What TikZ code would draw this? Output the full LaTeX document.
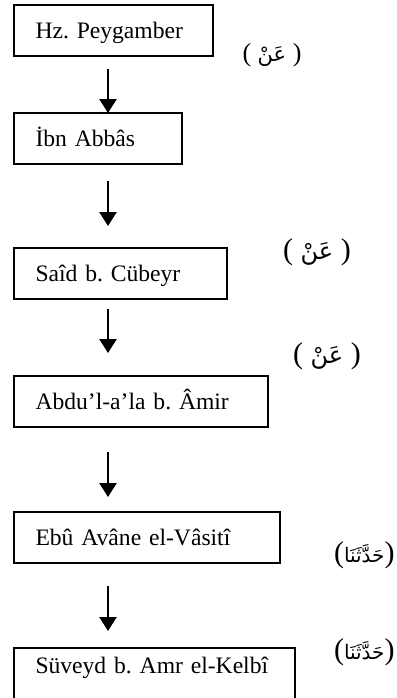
\documentclass[tikz,border=0pt]{standalone}
\usepackage{fontspec}
\setmainfont{Liberation Serif}
\newfontfamily\arabicfont[Script=Arabic]{DejaVu Sans}
\TeXXeTstate=1
\frenchspacing
\usetikzlibrary{arrows.meta}
\begin{document}
\begin{tikzpicture}[x=0.5pt,y=-0.5pt,
  box/.style={draw, line width=1pt, rectangle, anchor=north west, outer sep=0pt,
    inner ysep=0pt, inner xsep=10.75pt, align=left,
    text height=16.5pt, text depth=9pt,
    font=\fontsize{11.8}{14}\selectfont},
  arr/.style={line width=1.2pt, -{Triangle[width=8.5pt,length=7pt]}},
  labsmall/.style={inner sep=0pt, font=\fontsize{13}{14}\selectfont},
  lab/.style={inner sep=0pt, font=\fontsize{15}{18}\selectfont},
  labh/.style={inner sep=0pt, anchor=east, font=\fontsize{15}{18}\selectfont}]
\useasboundingbox (0,0) rectangle (397,698);
\begin{scope}
\clip (0,0) rectangle (397,698);
\node[box, text width=78pt] (b1) at (14,5) {Hz. Peygamber};
\node[box, text width=62.5pt] (b2) at (14,113) {İbn Abbâs};
\node[box, text width=85pt] (b3) at (14,248) {Saîd b. Cübeyr};
\node[box, text width=105.5pt] (b4) at (14,376) {Abdu’l-a’la b. Âmir};
\node[box, text width=111.5pt] (b5) at (14,512) {Ebû Avâne el-Vâsitî};
\node[box, text width=119pt, text height=12.5pt, text depth=14pt] (b6) at (14,648) {Süveyd b. Amr el-Kelbî};
\end{scope}
\draw[arr, shorten <=6.5pt] ([xshift=47pt]b1.south west) -- ([xshift=47pt]b2.north west);
\draw[arr, shorten <=8.5pt, shorten >=11pt] ([xshift=47pt]b2.south west) -- ([xshift=47pt]b3.north west);
\draw[arr, shorten <=5pt, shorten >=11.5pt] ([xshift=47pt]b3.south west) -- ([xshift=47pt]b4.north west);
\draw[arr, shorten <=12.5pt, shorten >=7.5pt] ([xshift=47pt]b4.south west) -- ([xshift=47pt]b5.north west);
\draw[arr, shorten <=11.5pt, shorten >=8.5pt] ([xshift=47pt]b5.south west) -- ([xshift=47pt]b6.north west);
\node[labsmall] (l1) at (272,55) {( {\arabicfont\fontsize{10.5}{12}\selectfont\beginR عَنْ\endR} )};
\node[lab] (l2) at (317,252) {( {\arabicfont\fontsize{12}{14}\selectfont\beginR عَنْ\endR} )};
\node[lab] (l3) at (327,356) {( {\arabicfont\fontsize{12}{14}\selectfont\beginR عَنْ\endR} )};
\node[labh] (l4) at (395,555) {({\arabicfont\fontsize{10}{12}\selectfont\beginR حَدَّثَنَا\endR})};
\node[labh] (l5) at (395,652) {({\arabicfont\fontsize{10}{12}\selectfont\beginR حَدَّثَنَا\endR})};
\end{tikzpicture}
\end{document}
